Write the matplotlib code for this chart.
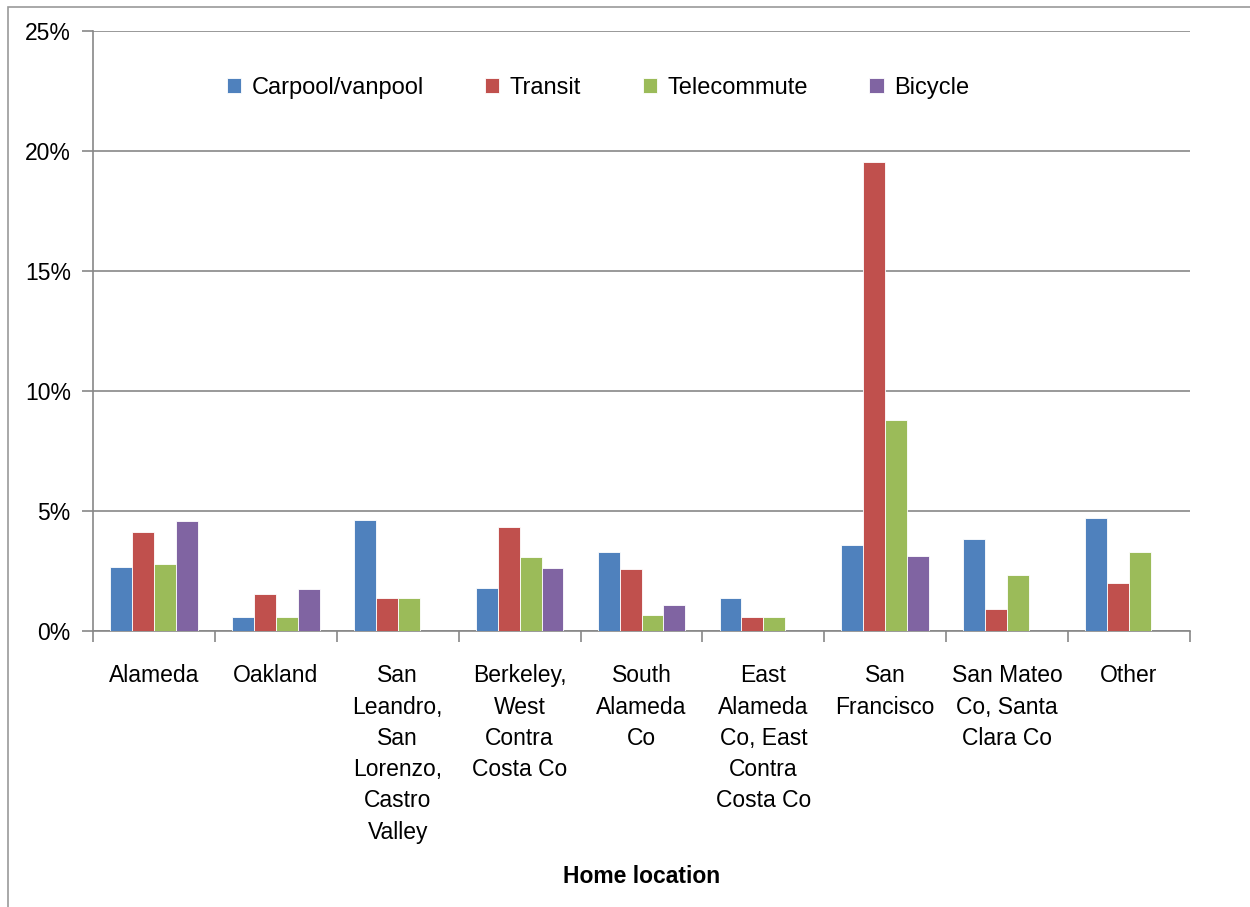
import matplotlib
matplotlib.use("Agg")
import matplotlib.pyplot as plt
import numpy as np
from matplotlib.patches import Rectangle
from matplotlib.ticker import FuncFormatter, FixedLocator

categories = ["Alameda", "Oakland", "San\nLeandro,\nSan\nLorenzo,\nCastro\nValley",
              "Berkeley,\nWest\nContra\nCosta Co", "South\nAlameda\nCo",
              "East\nAlameda\nCo, East\nContra\nCosta Co", "San\nFrancisco",
              "San Mateo\nCo, Santa\nClara Co", "Other"]
series_names = ["Carpool/vanpool", "Transit", "Telecommute", "Bicycle"]
carpool = [2.68, 0.57, 4.61, 1.78, 3.31, 1.38, 3.60, 3.83, 4.69]
transit = [4.11, 1.54, 1.38, 4.35, 2.57, 0.57, 19.54, 0.92, 2.00]
telecommute = [2.79, 0.57, 1.38, 3.08, 0.68, 0.57, 8.79, 2.33, 3.30]
bicycle = [4.57, 1.76, 0.0, 2.63, 1.08, 0.0, 3.14, 0.0, 0.0]
y_ticks = [0, 5, 10, 15, 20, 25]

colors = ["#4F81BD", "#C0504D", "#9BBB59", "#8064A2"]
plt.rcParams['font.family'] = ['Liberation Sans', 'DejaVu Sans']

fig = plt.figure(figsize=(12.5, 9.07), dpi=100)
W, H = 1250, 907
ax = fig.add_axes([93 / W, 1 - 631 / H, (1190 - 93) / W, (631 - 31) / H])

x = np.arange(len(categories))
bw = 0.18
data = [carpool, transit, telecommute, bicycle]
for i, (vals, name, c) in enumerate(zip(data, series_names, colors)):
    ax.bar(x + (i - 1.5) * bw, vals, width=bw, color=c, label=name,
           edgecolor="white", linewidth=0.6, zorder=3)

ax.set_xlim(-0.5, len(categories) - 0.5)
ax.set_ylim(0, 25)
ax.yaxis.set_major_locator(FixedLocator(y_ticks))
ax.yaxis.set_major_formatter(FuncFormatter(lambda v, p: f"{int(v)}%"))
ax.grid(axis="y", color="#878787", linewidth=1.2, zorder=0)

ax.set_xticks(x)
ax.set_xticklabels(categories, fontsize=16.5, linespacing=1.46, va="top")
ax.set_xticks(np.arange(-0.5, len(categories)), minor=True)
ax.tick_params(axis="x", which="major", length=0, pad=24)
ax.tick_params(axis="x", which="minor", length=8, width=1.2, color="#878787")
ax.tick_params(axis="y", length=8, width=1.2, color="#878787", labelsize=16.5, pad=8)

for s in ["top", "right"]:
    ax.spines[s].set_visible(False)
for s in ["left", "bottom"]:
    ax.spines[s].set_color("#878787")
    ax.spines[s].set_linewidth(1.2)

ax.set_xlabel("Home location", fontsize=16.5, fontweight="bold")
ax.xaxis.set_label_coords(0.5, -0.39)

leg = fig.legend(loc="center", bbox_to_anchor=(598 / W, 1 - 88 / H), ncol=4,
                 frameon=False, fontsize=17, handlelength=0.6, handleheight=0.6,
                 columnspacing=2.6, handletextpad=0.45)

fig.patches.append(Rectangle((8 / W, -0.1), 1.2, 1.1 - 7 / H, transform=fig.transFigure,
                             fill=False, edgecolor="#9a9a9a", linewidth=1.2))

fig.savefig("out.png", dpi=100)
